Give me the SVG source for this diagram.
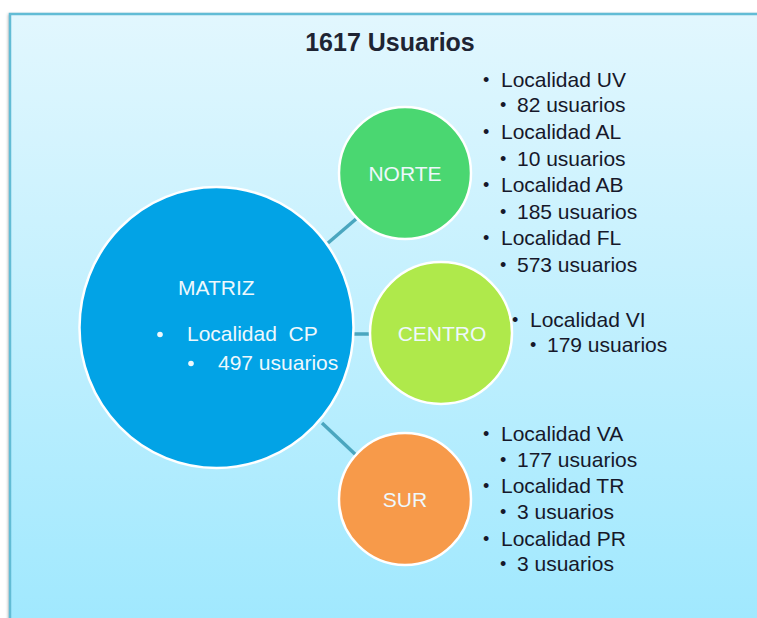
<svg xmlns="http://www.w3.org/2000/svg" width="757" height="618" viewBox="0 0 757 618">
<defs>
<linearGradient id="bg" x1="0" y1="0" x2="0" y2="1">
<stop offset="0" stop-color="#e2f7fe"/>
<stop offset="1" stop-color="#9fe8fe"/>
</linearGradient>
<filter id="sh" x="-5%" y="-5%" width="110%" height="110%">
<feGaussianBlur stdDeviation="1.5"/>
</filter>
</defs>
<style>
.t{font-family:"Liberation Sans",Arial,sans-serif;font-size:21px;fill:#16182a}
.b{font-family:"Liberation Sans",Arial,sans-serif;font-size:18px;fill:#16182a}
.w{font-family:"Liberation Sans",Arial,sans-serif;font-size:21px;fill:#eef8fc}
.c{stroke:#4aa6bf;stroke-width:3.5;fill:none}
.n{stroke:#ffffff;stroke-width:2.5}
</style>
<rect width="757" height="618" fill="#ffffff"/>
<rect x="8" y="14" width="760" height="620" fill="#bbbbbb" filter="url(#sh)"/>
<rect x="10" y="14" width="760" height="620" fill="url(#bg)" stroke="#62bcd5" stroke-width="2.5"/>
<text x="390" y="51" text-anchor="middle" style="font-family:'Liberation Sans',Arial,sans-serif;font-size:25px;font-weight:bold;fill:#1e2433">1617 Usuarios</text>
<g id="connectors">
<line class="c" x1="328" y1="243" x2="356" y2="219"/>
<line class="c" x1="352" y1="334" x2="371" y2="334"/>
<line class="c" x1="322" y1="423" x2="356" y2="455"/>
</g>
<g id="matriz">
<ellipse class="n" cx="216.5" cy="327.5" rx="137" ry="140.5" fill="#02a3e6"/>
<text class="w" x="178" y="295">MATRIZ</text>
<circle cx="160" cy="334.5" r="2.8" fill="#eef8fc"/>
<text class="w" x="187" y="341" xml:space="preserve">Localidad  CP</text>
<circle cx="191" cy="363.5" r="2.8" fill="#eef8fc"/>
<text class="w" x="218" y="370">497 usuarios</text>
</g>
<g id="norte">
<circle class="n" cx="405" cy="173" r="66" fill="#4ad771"/>
<text class="w" x="405" y="180.5" text-anchor="middle">NORTE</text>
</g>
<g id="centro">
<circle class="n" cx="441" cy="333" r="71" fill="#afe94b"/>
<text class="w" x="442" y="340.5" text-anchor="middle">CENTRO</text>
</g>
<g id="sur">
<circle class="n" cx="405" cy="499" r="66" fill="#f79a4a"/>
<text class="w" x="405" y="506.5" text-anchor="middle">SUR</text>
</g>
<g id="norte-list">
<text class="b" x="483" y="86">•</text><text class="t" x="501" y="87">Localidad UV</text>
<text class="b" x="500" y="111">•</text><text class="t" x="517" y="112">82 usuarios</text>
<text class="b" x="483" y="138">•</text><text class="t" x="501" y="139">Localidad AL</text>
<text class="b" x="500" y="165">•</text><text class="t" x="517" y="166">10 usuarios</text>
<text class="b" x="483" y="191">•</text><text class="t" x="501" y="192">Localidad AB</text>
<text class="b" x="500" y="218">•</text><text class="t" x="517" y="219">185 usuarios</text>
<text class="b" x="483" y="244">•</text><text class="t" x="501" y="245">Localidad FL</text>
<text class="b" x="500" y="271">•</text><text class="t" x="517" y="272">573 usuarios</text>
</g>
<g id="centro-list">
<text class="b" x="512" y="326">•</text><text class="t" x="530" y="327">Localidad VI</text>
<text class="b" x="530" y="351">•</text><text class="t" x="547" y="352">179 usuarios</text>
</g>
<g id="sur-list">
<text class="b" x="483" y="440">•</text><text class="t" x="501" y="441">Localidad VA</text>
<text class="b" x="500" y="466">•</text><text class="t" x="517" y="467">177 usuarios</text>
<text class="b" x="483" y="492">•</text><text class="t" x="501" y="493">Localidad TR</text>
<text class="b" x="500" y="518">•</text><text class="t" x="517" y="519">3 usuarios</text>
<text class="b" x="483" y="545">•</text><text class="t" x="501" y="546">Localidad PR</text>
<text class="b" x="500" y="570">•</text><text class="t" x="517" y="571">3 usuarios</text>
</g>
</svg>
